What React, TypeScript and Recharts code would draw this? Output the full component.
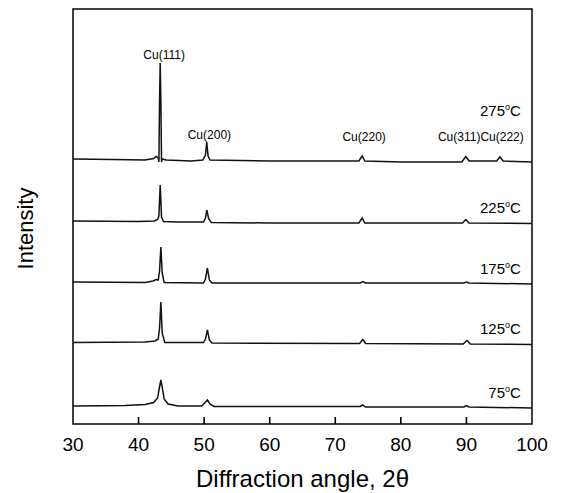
import React from "react";
import { LineChart, Line, XAxis, YAxis, ReferenceArea, ReferenceDot } from "recharts";

// XRD scans of Cu films annealed at different temperatures.
// Each scan is [2θ, intensity above its own baseline] (arb. units).
const scan275: [number, number][] = [
  [30, 1], [36, 0.5], [41, 0], [42.3, 1.5], [42.7, 3.5], [43.0, 2], [43.1, -2], [43.2, 60],
  [43.3, 97], [43.4, 60], [43.5, -2], [43.6, 1], [44.2, 0], [48, -1], [49.8, 0], [50.2, 5],
  [50.4, 18], [50.6, 4], [50.9, 0], [60, -1], [70, -1], [73.6, -1], [74.1, 4], [74.5, -1],
  [80, -2], [89.3, -2], [89.9, 3.5], [90.4, -1], [94.6, -1], [95.1, 3], [95.6, -1], [100, -2],
];
const scan225: [number, number][] = [
  [30, 1], [40, 0.5], [42.4, 1], [42.9, 2.5], [43.1, 6], [43.3, 37], [43.5, 5], [43.8, 0.5],
  [46, 0], [49.9, 0], [50.2, 4], [50.4, 12], [50.7, 3], [51.1, -0.5], [60, -1], [73.6, -1],
  [74.1, 4], [74.5, -1], [89.4, -1], [89.9, 2.5], [90.4, -1], [100, -1.5],
];
const scan175: [number, number][] = [
  [30, 1], [41, 0.5], [42.2, 2], [42.7, 3.5], [43.0, 3], [43.2, 12], [43.4, 36], [43.6, 10],
  [43.9, 0.5], [49.9, 0], [50.2, 4], [50.5, 15], [50.8, 3], [51.2, 0], [73.8, 0], [74.2, 1.5],
  [74.6, 0], [89.6, 0], [90, 1], [90.4, 0], [100, -1],
];
const scan125: [number, number][] = [
  [30, 0.5], [41, 1], [42.5, 2], [43.0, 4], [43.2, 15], [43.4, 41], [43.6, 10], [44, 0.5],
  [49.9, 0.5], [50.2, 4], [50.5, 13], [50.8, 3], [51.2, 0], [73.7, -0.5], [74.2, 3.5],
  [74.6, -0.5], [89.5, -1], [90.1, 2.5], [90.6, -1], [100, -1.5],
];
const scan75: [number, number][] = [
  [30, 1], [38, 1.5], [41, 2.5], [42.3, 4.5], [42.9, 9], [43.2, 20], [43.4, 27], [43.6, 20],
  [43.9, 8], [44.5, 3], [46, 1], [49.6, 1], [50.1, 4], [50.5, 7], [50.9, 3], [51.5, 0.5],
  [73.8, 0.5], [74.2, 2], [74.6, 0], [89.6, 0], [90, 1.5], [90.4, 0], [100, -1],
];

const scans = [scan275, scan225, scan175, scan125, scan75];
const temperatures = [275, 225, 175, 125, 75];
// vertical stacking offset of each scan
const offsets = [264, 202, 141, 81, 17];
// where each temperature tag sits (2θ of its right edge, height of its centre)
const tempLabelX = 98.3;
const tempLabelY = [313, 216, 155, 95, 31.5];

const reflections = ["Cu(111)", "Cu(200)", "Cu(220)", "Cu(311)Cu(222)"];
const reflectionX = [43.9, 50.8, 74.4, 92.2];
const reflectionY = [369, 289, 287, 287];

const xMin = 30;
const xMax = 100;
const xTicks = [30, 40, 50, 60, 70, 80, 90, 100];
const yMax = 415;

const series = scans.map((scan, i) =>
  scan.map(([x, y]) => ({ x, y: y + offsets[i] }))
);

const font = "Arial, 'Liberation Sans', sans-serif";

// plot frame with short ticks pointing inward from the bottom edge
function Frame(props: any) {
  const { x, y, width, height } = props;
  const bottom = y + height;
  return (
    <g>
      {xTicks.slice(1, -1).map((t) => {
        const tx = x + ((t - xMin) / (xMax - xMin)) * width;
        return <line key={t} x1={tx} y1={bottom} x2={tx} y2={bottom - 7} stroke="#000" strokeWidth={1.6} />;
      })}
      <rect x={x} y={y} width={width} height={height} fill="none" stroke="#000" strokeWidth={1.5} />
    </g>
  );
}

// temperature tag with a raised "o" for the degree sign
function TempTag(props: any) {
  const { viewBox, value } = props;
  return (
    <text
      x={viewBox.x}
      y={viewBox.y + 5}
      textAnchor="end"
      fill="#000"
      fontSize={15}
      fontFamily={font}
    >
      {value}
      <tspan dy={-6} fontSize={9}>o</tspan>
      <tspan dy={6}>C</tspan>
    </text>
  );
}

export default function App() {
  return (
    <div style={{ position: "absolute", left: 0, top: 0, background: "#fff" }}>
      <LineChart
        width={562}
        height={493}
        margin={{ top: 9, right: 30, bottom: 0, left: 0 }}
        style={{ fontFamily: font }}
      >
        <XAxis
          dataKey="x"
          type="number"
          domain={[xMin, xMax]}
          ticks={xTicks}
          allowDataOverflow
          interval={0}
          height={69}
          axisLine={false}
          tickLine={false}
          tickSize={0}
          tickMargin={14}
          tick={{ fill: "#000", fontSize: 19, fontFamily: font }}
          label={{
            value: "Diffraction angle, 2θ",
            position: "insideBottom",
            offset: 6,
            fill: "#000",
            fontSize: 24,
            fontFamily: font,
          }}
        />
        <YAxis
          type="number"
          domain={[0, yMax]}
          allowDataOverflow
          width={73}
          tick={false}
          tickLine={false}
          axisLine={false}
          label={(props: any) => {
            const vb = props.viewBox;
            return (
              <text
                transform={`translate(${vb.x + 33}, ${vb.y + vb.height / 2 + 12}) rotate(-90)`}
                textAnchor="middle"
                fill="#000"
                fontSize={22}
                fontFamily={font}
              >
                Intensity
              </text>
            );
          }}
        />
        {series.map((data, i) => (
          <Line
            key={temperatures[i]}
            data={data}
            dataKey="y"
            type="linear"
            stroke="#111"
            strokeWidth={1.5}
            dot={false}
            isAnimationActive={false}
          />
        ))}
        <ReferenceArea
          x1={xMin}
          x2={xMax}
          y1={0}
          y2={yMax}
          fill="none"
          stroke="#000"
          shape={<Frame />}
        />
        {reflections.map((name, i) => (
          <ReferenceDot
            key={name}
            x={reflectionX[i]}
            y={reflectionY[i]}
            r={0}
            fill="none"
            stroke="none"
            label={{ value: name, position: "center", fill: "#000", fontSize: 12, fontFamily: font }}
          />
        ))}
        {temperatures.map((t, i) => (
          <ReferenceDot
            key={t}
            x={tempLabelX}
            y={tempLabelY[i]}
            r={0}
            fill="none"
            stroke="none"
            label={{ value: String(t), content: <TempTag /> }}
          />
        ))}
      </LineChart>
    </div>
  );
}
